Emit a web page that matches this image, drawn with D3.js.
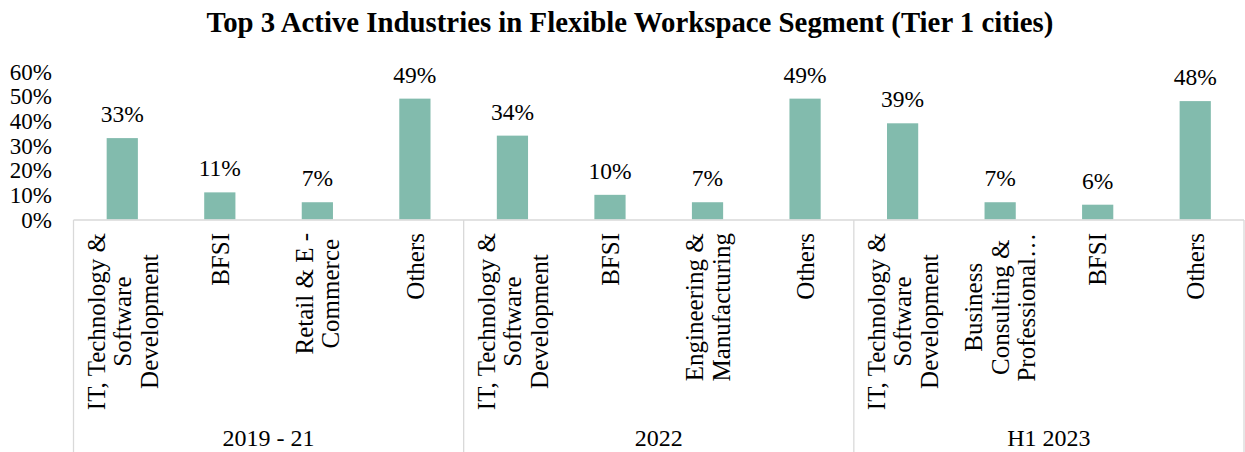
<!DOCTYPE html>
<html>
<head>
<meta charset="utf-8">
<script src="https://cdn.jsdelivr.net/npm/d3@7"></script>
<style>
  body { margin: 0; background: #fff; }
  svg { display: block; font-family: "Liberation Serif", "Times New Roman", serif; }
</style>
</head>
<body>
<svg width="1245" height="452"></svg>
<script>
const periods = ["2019 - 21", "2022", "H1 2023"];
const categories = [
  "IT, Technology &\nSoftware\nDevelopment", "BFSI", "Retail & E -\nCommerce", "Others",
  "IT, Technology &\nSoftware\nDevelopment", "BFSI", "Engineering &\nManufacturing", "Others",
  "IT, Technology &\nSoftware\nDevelopment", "Business\nConsulting &\nProfessional\u2026", "BFSI", "Others"
];
const shares = [0.33, 0.11, 0.07, 0.49, 0.34, 0.10, 0.07, 0.49, 0.39, 0.07, 0.06, 0.48];
const yTicks = [0, 0.1, 0.2, 0.3, 0.4, 0.5, 0.6];

const FONT = 25, BAR = "#82bbad", GRID = "#d9d9d9";
const left = 73.5, right = 1244, axisY = 219.5;

const svg = d3.select("svg");

svg.append("text")
  .attr("x", 630).attr("y", 32)
  .attr("text-anchor", "middle")
  .attr("font-weight", "bold")
  .attr("font-size", 28.8)
  .text("Top 3 Active Industries in Flexible Workspace Segment (Tier 1 cities)");

const x = d3.scaleBand()
  .domain(d3.range(categories.length))
  .range([left, right])
  .paddingInner(0.68)
  .paddingOuter(0.34);

const y = d3.scaleLinear().domain([0, 0.6]).range([axisY, 71.5]);

// y tick labels (no axis line)
svg.append("g")
  .selectAll("text")
  .data(yTicks)
  .join("text")
  .attr("x", 52)
  .attr("y", d => y(d))
  .attr("dy", "0.35em")
  .attr("text-anchor", "end")
  .attr("font-size", 23)
  .text(d3.format(".0%"));

// bars
svg.append("g")
  .selectAll("rect")
  .data(shares)
  .join("rect")
  .attr("x", (d, i) => x(i))
  .attr("width", x.bandwidth())
  .attr("y", d => y(d))
  .attr("height", d => axisY - y(d))
  .attr("fill", BAR);

// value labels
svg.append("g")
  .selectAll("text")
  .data(shares)
  .join("text")
  .attr("x", (d, i) => x(i) + x.bandwidth() / 2)
  .attr("y", d => y(d) - 16)
  .attr("text-anchor", "middle")
  .attr("font-size", 23.5)
  .text(d3.format(".0%"));

// category axis box
const step = x.step();
const axis = svg.append("g").attr("stroke", GRID).attr("stroke-width", 1.3);
axis.append("line").attr("x1", left).attr("x2", right).attr("y1", axisY + 0.5).attr("y2", axisY + 0.5);
d3.range(periods.length + 1).forEach(k => {
  const xx = k === periods.length ? right : left + k * 4 * step;
  axis.append("line").attr("x1", xx).attr("x2", xx).attr("y1", axisY + 0.5).attr("y2", 452);
});

// rotated category labels, block top-aligned, lines centred
const labelTop = 233, lineH = 26.5;
categories.forEach((c, i) => {
  const lines = c.split("\n");
  const cx = x(i) + x.bandwidth() / 2;
  const g = svg.append("g");
  const texts = lines.map((l, j) => g.append("text")
    .attr("x", 0)
    .attr("y", (j - (lines.length - 1) / 2) * lineH)
    .attr("dy", "0.35em")
    .attr("text-anchor", "middle")
    .attr("font-size", FONT)
    .text(l));
  const maxLen = d3.max(texts, t => t.node().getComputedTextLength());
  g.attr("transform", `translate(${cx},${labelTop + maxLen / 2}) rotate(-90)`);
});

// period labels
svg.append("g")
  .selectAll("text")
  .data(periods)
  .join("text")
  .attr("x", (d, k) => left + (k + 0.5) * 4 * step)
  .attr("y", 446)
  .attr("text-anchor", "middle")
  .attr("font-size", 24)
  .text(d => d);
</script>
</body>
</html>
